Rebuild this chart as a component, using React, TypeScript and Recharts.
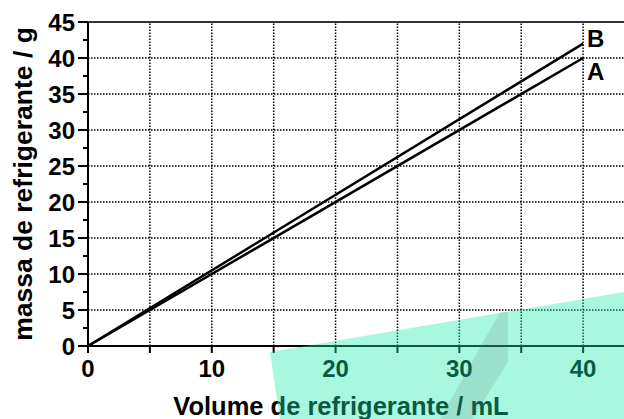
import React from "react";
import {
    LineChart,
    Line,
    XAxis,
    YAxis,
    ReferenceLine,
    LabelList,
    Label,
} from "recharts";

// volume (mL) against mass (g) for two soft drinks
const volumes = [0, 40];
const massA = [0, 40];
const massB = [0, 42];
const seriesNames = ["A", "B"];

const xTicks = [0, 5, 10, 15, 20, 25, 30, 35, 40];
const yTicks = [0, 2.5, 5, 7.5, 10, 12.5, 15, 17.5, 20, 22.5, 25, 27.5, 30, 32.5, 35, 37.5, 40, 42.5, 45];
const gridValues = [5, 10, 15, 20, 25, 30, 35, 40];

const data = volumes.map((v, i) => ({ v, A: massA[i], B: massB[i] }));

const FONT = '"Liberation Sans", Arial, sans-serif';

const YTick = (props: any) => {
    const { x, y, payload } = props;
    const axisX = x + 13;
    const major = payload.value % 5 === 0;
    return (
        <g>
            <line x1={axisX - (major ? 10 : 5)} x2={axisX} y1={y} y2={y} stroke="#000" strokeWidth={2} />
            {major && (
                <text x={x} y={y} dy="0.36em" textAnchor="end" fontFamily={FONT} fontWeight="bold" fontSize={24} fill="#000">
                    {payload.value}
                </text>
            )}
        </g>
    );
};

const XTick = (props: any) => {
    const { x, y, payload } = props;
    const axisY = y - 14;
    return (
        <g>
            <line x1={x} x2={x} y1={axisY} y2={axisY + 7} stroke="#000" strokeWidth={2} />
            {payload.value % 10 === 0 && (
                <text x={x} y={y} dy="0.72em" textAnchor="middle" fontFamily={FONT} fontWeight="bold" fontSize={24} fill="#000">
                    {payload.value}
                </text>
            )}
        </g>
    );
};

const endLabel = (name: string, dy: number) => (props: any) => {
    const { x, y, index } = props;
    if (index !== volumes.length - 1) return null;
    return (
        <text x={x + 4} y={y + dy} fontFamily={FONT} fontWeight="bold" fontSize={24} fill="#000">
            {name}
        </text>
    );
};

const XTitle = (props: any) => {
    const { viewBox } = props;
    return (
        <text x={viewBox.x + 253} y={viewBox.y + 69} textAnchor="middle" fontFamily={FONT} fontWeight="bold" fontSize={25.5} fill="#000">
            Volume de refrigerante / mL
        </text>
    );
};

const YTitle = (props: any) => {
    const { viewBox } = props;
    const cx = viewBox.x + 32;
    const cy = viewBox.y + viewBox.height / 2;
    return (
        <text x={cx} y={cy} transform={`rotate(-90 ${cx} ${cy})`} textAnchor="middle" fontFamily={FONT} fontWeight="bold" fontSize={26.5} fill="#000">
            massa de refrigerante / g
        </text>
    );
};

export default function App() {
    return (
        <div style={{ position: "absolute", left: 0, top: 0, width: 624, height: 419, overflow: "hidden", background: "#fff" }}>
            <LineChart width={660} height={419} data={data} margin={{ top: 22, right: 15, bottom: 0, left: 0 }}>
                <XAxis
                    dataKey="v"
                    type="number"
                    domain={[0, 45]}
                    ticks={xTicks}
                    height={73}
                    tickSize={7}
                    tickMargin={7}
                    tickLine={false}
                    tick={<XTick />}
                    axisLine={{ stroke: "#000", strokeWidth: 2 }}
                >
                    <Label content={<XTitle />} />
                </XAxis>
                <YAxis
                    type="number"
                    domain={[0, 45]}
                    ticks={yTicks}
                    width={88}
                    tickSize={10}
                    tickMargin={3}
                    tickLine={false}
                    tick={<YTick />}
                    interval={0}
                    axisLine={{ stroke: "#000", strokeWidth: 2 }}
                >
                    <Label content={<YTitle />} />
                </YAxis>
                {gridValues.map((g) => (
                    <ReferenceLine key={`h${g}`} y={g} stroke="#000" strokeWidth={1.5} strokeDasharray="1.5 1.5" />
                ))}
                {gridValues.map((g) => (
                    <ReferenceLine key={`v${g}`} x={g} stroke="#000" strokeWidth={1.5} strokeDasharray="1.5 1.5" />
                ))}
                <ReferenceLine y={45} stroke="#333" strokeWidth={2} />
                <Line dataKey={seriesNames[0]} stroke="#000" strokeWidth={2.5} dot={false} isAnimationActive={false}>
                    <LabelList content={endLabel(seriesNames[0], 22)} />
                </Line>
                <Line dataKey={seriesNames[1]} stroke="#000" strokeWidth={2.5} dot={false} isAnimationActive={false}>
                    <LabelList content={endLabel(seriesNames[1], 3.5)} />
                </Line>
            </LineChart>
            <svg width={624} height={419} style={{ position: "absolute", left: 0, top: 0, pointerEvents: "none" }}>
                <polygon points="270,352 624,292 624,419 280,419" fill="rgb(26,237,174)" fillOpacity={0.38} />
                <polygon points="500,312 508,312 508,362 472,419 440,419" fill="#555" fillOpacity={0.14} />
            </svg>
        </div>
    );
}
